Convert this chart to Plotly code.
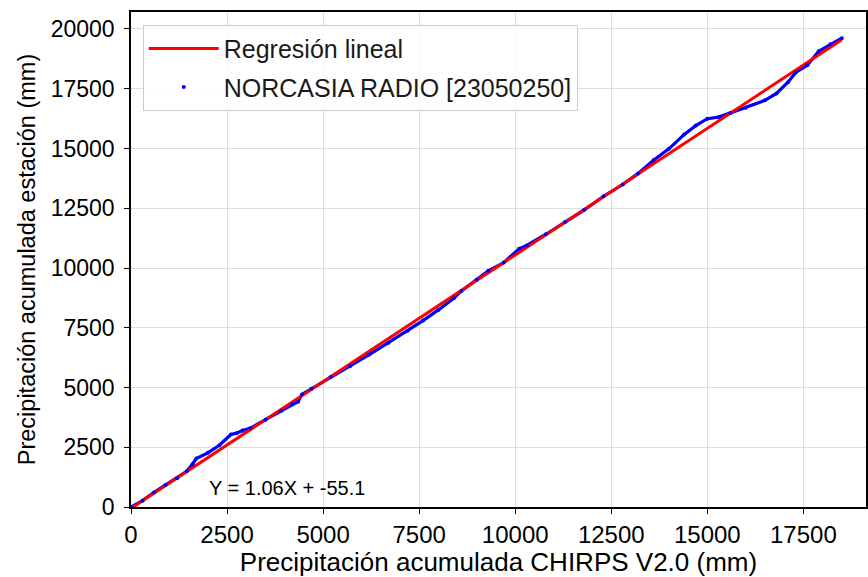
import plotly.graph_objects as go

# Cumulative precipitation (mm): CHIRPS V2.0 (x) vs station NORCASIA RADIO (y)
chirps_cum = [0, 300, 600, 900, 1200, 1450, 1600, 1700, 2000, 2300, 2600, 2750, 2900,
              3100, 3500, 3900, 4200, 4350, 4450, 4700, 5200, 5700, 6200, 6700,
              7200, 7600, 8000, 8400, 8600, 9000, 9300, 9700, 10100, 10300, 10800,
              11300, 11800, 12300, 12800, 13200, 13600, 14000, 14400, 14700, 15000,
              15300, 15600, 16000, 16500, 16800, 17100, 17300, 17600, 17900, 18200,
              18500]
station_cum = [0, 265, 611, 919, 1207, 1492, 1791, 2027, 2265, 2583, 3031, 3090, 3199,
               3291, 3655, 4019, 4297, 4406, 4712, 4947, 5437, 5887, 6377, 6877,
               7377, 7801, 8245, 8729, 9041, 9505, 9883, 10227, 10801, 10943, 11413,
               11923, 12433, 13003, 13493, 13957, 14511, 14985, 15589, 15957, 16245,
               16313, 16481, 16705, 17015, 17303, 17771, 18183, 18481, 19069, 19357,
               19615]

slope = 1.06
intercept = -55.1
reg_x = [0, max(chirps_cum)]
reg_y = [slope * v + intercept for v in reg_x]

x_ticks = [0, 2500, 5000, 7500, 10000, 12500, 15000, 17500]
y_ticks = [0, 2500, 5000, 7500, 10000, 12500, 15000, 17500, 20000]

FONT = "Liberation Sans, Arial, sans-serif"

fig = go.Figure()
fig.add_trace(go.Scatter(
    x=chirps_cum, y=station_cum, mode="lines",
    line=dict(color="#0000ff", width=3.2), showlegend=False, hoverinfo="skip"))
fig.add_trace(go.Scatter(
    x=reg_x, y=reg_y, mode="lines", name="Regresión lineal",
    line=dict(color="#ff0000", width=3), legendgroup="a"))
fig.add_trace(go.Scatter(
    x=chirps_cum, y=station_cum, mode="markers", name="NORCASIA RADIO [23050250]",
    marker=dict(color="#0000ff", size=4), legendgroup="b"))

fig.add_annotation(
    x=1980, y=790, xref="x", yref="y", text="Y = 1.06X + -55.1",
    showarrow=False, xanchor="left", yanchor="middle",
    font=dict(family=FONT, size=20, color="#000000"))

axis_common = dict(
    showgrid=True, gridcolor="#dddddd", gridwidth=1,
    showline=True, linecolor="#000000", linewidth=1.5, mirror=True,
    ticks="outside", ticklen=5, tickwidth=1.2, tickcolor="#000000",
    zeroline=False,
)

fig.update_layout(
    width=868, height=577,
    margin=dict(l=131, r=0, t=12, b=70),
    paper_bgcolor="white", plot_bgcolor="white",
    font=dict(family=FONT, color="#000000"),
    xaxis=dict(range=[0, 19130], tickvals=x_ticks, ticktext=[str(v) for v in x_ticks],
               tickfont=dict(family=FONT, size=24, color="#000000"),
               title=dict(text="Precipitación acumulada CHIRPS V2.0 (mm)",
                          font=dict(family=FONT, size=26), standoff=8),
               **axis_common),
    yaxis=dict(range=[0, 20711], tickvals=y_ticks, ticktext=[str(v) for v in y_ticks],
               tickfont=dict(family=FONT, size=23, color="#000000"),
               ticklabelstandoff=5,
               title=dict(text="Precipitación acumulada estación (mm)",
                          font=dict(family=FONT, size=23.5), standoff=8),
               **axis_common),
    legend=dict(x=0.016, y=0.974, xanchor="left", yanchor="top",
                bgcolor="rgba(255,255,255,0.85)", bordercolor="#cccccc", borderwidth=1,
                font=dict(family=FONT, size=25, color="#1a1a1a"),
                traceorder="grouped", tracegroupgap=3, itemwidth=70),
    showlegend=True,
)

fig.write_html("out.html")
